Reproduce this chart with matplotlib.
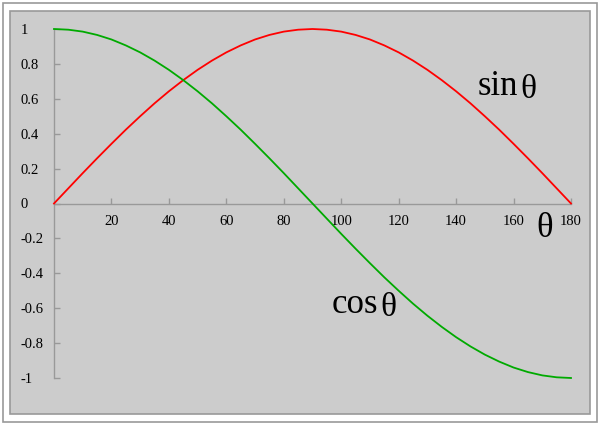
import matplotlib
matplotlib.use("Agg")
import matplotlib.pyplot as plt
from matplotlib.patches import Rectangle

# Data (degrees, value)
theta = [0, 5, 10, 15, 20, 25, 30, 35, 40, 45, 50, 55, 60, 65, 70, 75, 80, 85, 90,
         95, 100, 105, 110, 115, 120, 125, 130, 135, 140, 145, 150, 155, 160, 165,
         170, 175, 180]
sin_vals = [0.000, 0.087, 0.174, 0.259, 0.342, 0.423, 0.500, 0.574, 0.643, 0.707,
            0.766, 0.819, 0.866, 0.906, 0.940, 0.966, 0.985, 0.996, 1.000,
            0.996, 0.985, 0.966, 0.940, 0.906, 0.866, 0.819, 0.766, 0.707, 0.643,
            0.574, 0.500, 0.423, 0.342, 0.259, 0.174, 0.087, 0.000]
cos_vals = [1.000, 0.996, 0.985, 0.966, 0.940, 0.906, 0.866, 0.819, 0.766, 0.707,
            0.643, 0.574, 0.500, 0.423, 0.342, 0.259, 0.174, 0.087, 0.000,
            -0.087, -0.174, -0.259, -0.342, -0.423, -0.500, -0.574, -0.643, -0.707,
            -0.766, -0.819, -0.866, -0.906, -0.940, -0.966, -0.985, -0.996, -1.000]
x_ticks = [20, 40, 60, 80, 100, 120, 140, 160, 180]
x_tick_labels = ["20", "40", "60", "80", "100", "120", "140", "160", "180"]
y_ticks = [1, 0.8, 0.6, 0.4, 0.2, 0, -0.2, -0.4, -0.6, -0.8, -1]
y_tick_labels = ["1", "0.8", "0.6", "0.4", "0.2", "0", "-0.2", "-0.4", "-0.6", "-0.8", "-1"]

W, H = 601, 425
fig = plt.figure(figsize=(W / 100, H / 100), dpi=100)
fig.patch.set_facecolor("white")

def px(x0, y0, x1, y1):
    return [x0 / W, 1 - y1 / H, (x1 - x0) / W, (y1 - y0) / H]

# outer border
fig.patches.append(Rectangle((2.5 / W, 1 - 421.5 / H), 594 / W, 419 / H,
                             transform=fig.transFigure, facecolor="white",
                             edgecolor="#999999", linewidth=1.2, zorder=-3))
# inner panel
fig.patches.append(Rectangle((10.5 / W, 1 - 414 / H), 579 / W, 403.5 / H,
                             transform=fig.transFigure, facecolor="#cccccc",
                             edgecolor="#999999", linewidth=1.2, zorder=-2))

ax = fig.add_axes(px(54, 29, 571, 378))
ax.patch.set_alpha(0)
ax.set_xlim(0, 180)
ax.set_ylim(-1, 1)

ax.plot(theta, sin_vals, color="#ff0000", linewidth=1.3, clip_on=False, zorder=3)
ax.plot(theta, cos_vals, color="#00aa00", linewidth=1.3, clip_on=False, zorder=3)

for s in ["top", "right"]:
    ax.spines[s].set_visible(False)
ax.spines["bottom"].set_position(("data", 0))
ax.spines["left"].set_position(("data", 0))
for s in ["bottom", "left"]:
    ax.spines[s].set_color("#999999")
    ax.spines[s].set_linewidth(1.0)

serif = "Liberation Serif"
ax.set_xticks(x_ticks)
ax.set_xticklabels(x_tick_labels, fontfamily=serif, fontsize=10.5)
ax.set_yticks(y_ticks)
ax.set_yticklabels(y_tick_labels, fontfamily=serif, fontsize=10.5)
ax.tick_params(axis="both", direction="in", length=4.5, width=1.0, color="#999999")
ax.tick_params(axis="x", pad=8.5)
ax.tick_params(axis="y", pad=24)
for lab in ax.get_yticklabels():
    lab.set_horizontalalignment("left")

fig.text(544.5 / W, 1 - 237 / H, "θ", fontfamily=serif, fontsize=25,
         ha="center", va="baseline")
fig.text(518 / W, 1 - 95 / H, "sin", fontfamily=serif, fontsize=25,
         ha="right", va="baseline")
fig.text(528 / W, 1 - 98 / H, "θ", fontfamily=serif, fontsize=24,
         ha="center", va="baseline")
fig.text(378 / W, 1 - 313 / H, "cos", fontfamily=serif, fontsize=25,
         ha="right", va="baseline")
fig.text(388.5 / W, 1 - 316 / H, "θ", fontfamily=serif, fontsize=24,
         ha="center", va="baseline")

fig.savefig("out.png", dpi=100)
